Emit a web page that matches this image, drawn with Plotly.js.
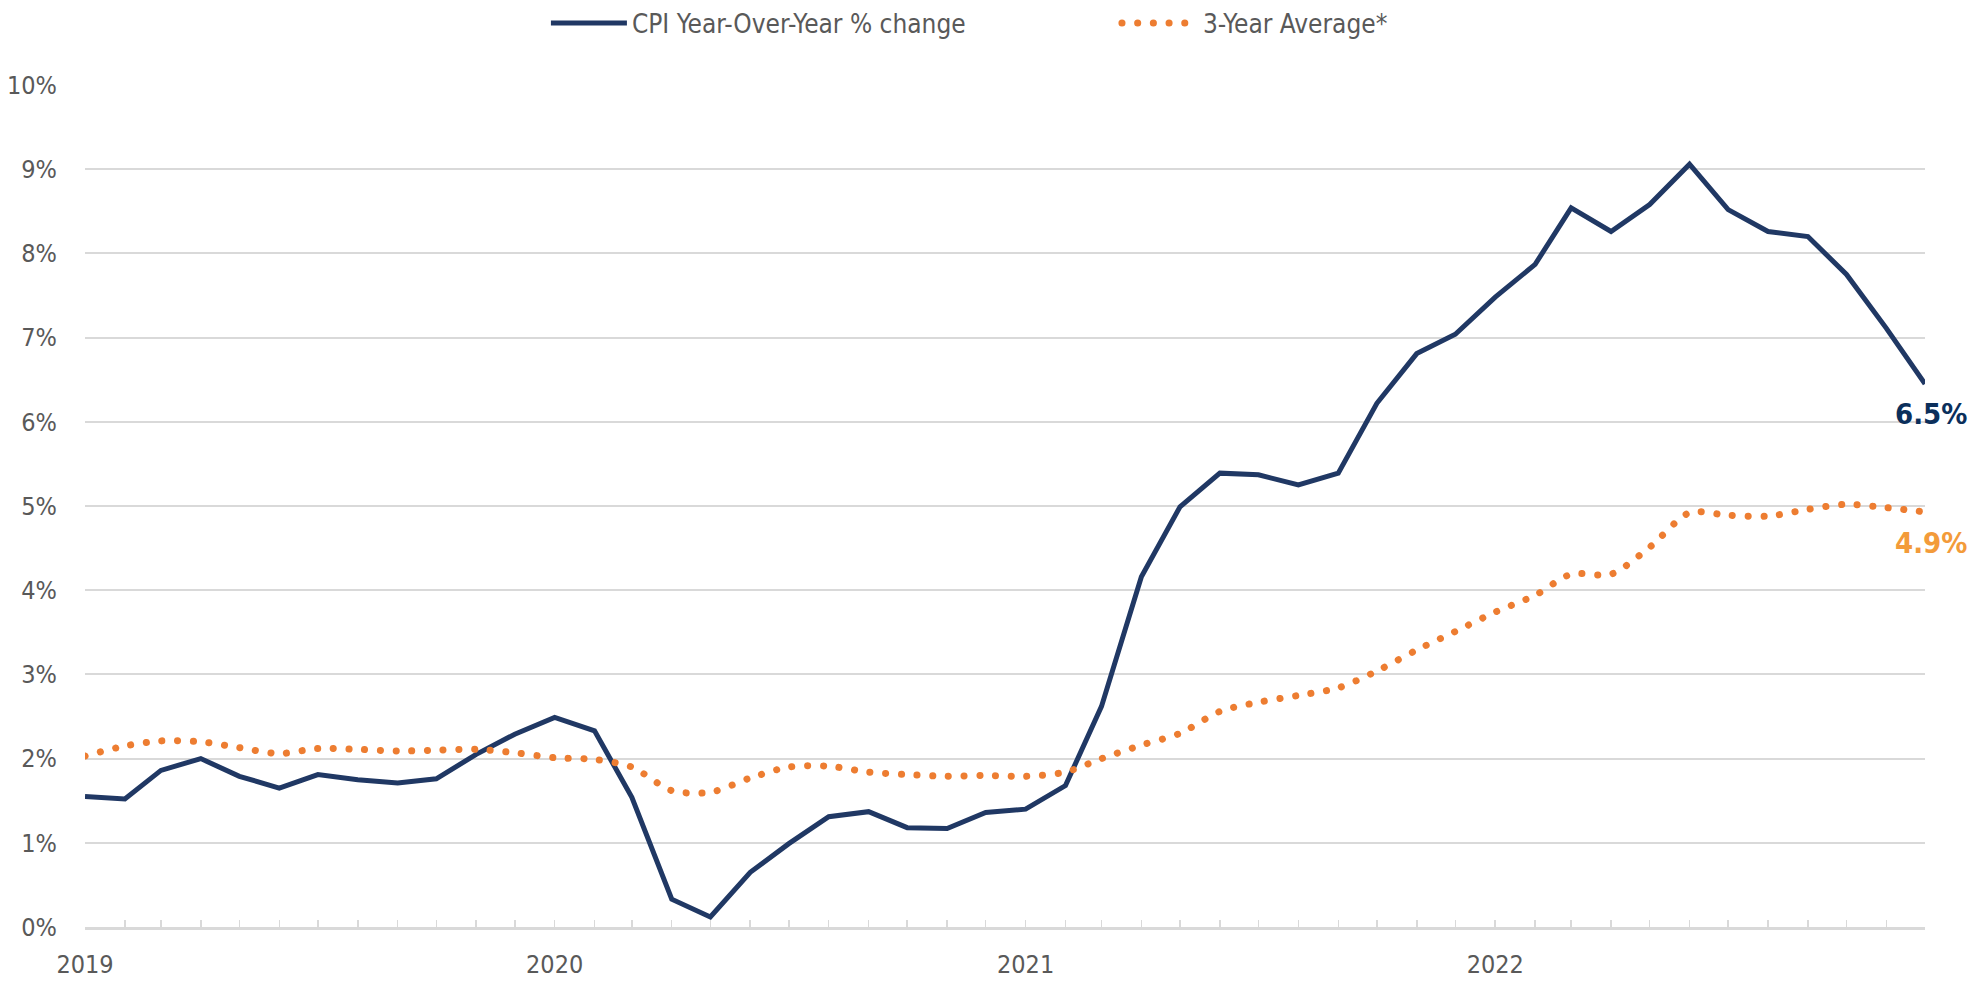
<!DOCTYPE html>
<html>
<head>
<meta charset="utf-8">
<script src="https://cdn.plot.ly/plotly-3.0.1.min.js"></script>
<style>
html,body{margin:0;padding:0;background:#fff;}
#chart{width:1988px;height:982px;}
</style>
</head>
<body>
<div id="chart"></div>
<script>
// ---- data ----
const months = [
  "2019-01-01","2019-02-01","2019-03-01","2019-04-01","2019-05-01","2019-06-01","2019-07-01","2019-08-01","2019-09-01","2019-10-01","2019-11-01","2019-12-01",
  "2020-01-01","2020-02-01","2020-03-01","2020-04-01","2020-05-01","2020-06-01","2020-07-01","2020-08-01","2020-09-01","2020-10-01","2020-11-01","2020-12-01",
  "2021-01-01","2021-02-01","2021-03-01","2021-04-01","2021-05-01","2021-06-01","2021-07-01","2021-08-01","2021-09-01","2021-10-01","2021-11-01","2021-12-01",
  "2022-01-01","2022-02-01","2022-03-01","2022-04-01","2022-05-01","2022-06-01","2022-07-01","2022-08-01","2022-09-01","2022-10-01","2022-11-01","2022-12-01"
];
const cpiYoY = [
  1.55,1.52,1.86,2.00,1.79,1.65,1.81,1.75,1.71,1.76,2.05,2.29,
  2.49,2.33,1.54,0.33,0.12,0.65,0.99,1.31,1.37,1.18,1.17,1.36,
  1.40,1.68,2.62,4.16,4.99,5.39,5.37,5.25,5.39,6.22,6.81,7.04,
  7.48,7.87,8.54,8.26,8.58,9.06,8.52,8.26,8.20,7.75,7.11,6.45
];
const threeYearAvg = [
  2.03,2.15,2.21,2.20,2.13,2.06,2.12,2.11,2.09,2.10,2.11,2.07,
  2.01,1.99,1.90,1.62,1.60,1.77,1.90,1.91,1.84,1.81,1.79,1.80,
  1.79,1.84,2.00,2.16,2.30,2.56,2.67,2.75,2.84,3.04,3.29,3.51,
  3.74,3.94,4.19,4.19,4.51,4.92,4.89,4.88,4.96,5.02,4.98,4.93
];
const seriesNames = ["CPI Year-Over-Year % change", "3-Year Average*"];
const endLabels = ["6.5%", "4.9%"];
const yTickVals = [0,1,2,3,4,5,6,7,8,9,10];
const yTickText = ["0%","1%","2%","3%","4%","5%","6%","7%","8%","9%","10%"];

const FONT = "'DejaVu Sans Condensed', 'Liberation Sans Narrow', 'Arial Narrow', sans-serif";
const BLUE = "#203864";
const ORANGE = "#ED7D31";

const traces = [
  {
    x: months, y: cpiYoY, name: seriesNames[0], type: "scatter", mode: "lines",
    line: {color: BLUE, width: 5}, hoverinfo: "skip"
  },
  {
    x: months, y: threeYearAvg, name: seriesNames[1], type: "scatter", mode: "lines",
    line: {color: ORANGE, width: 7, dash: "0.1px,15.6px", shape: "spline", smoothing: 0.8}, hoverinfo: "skip"
  }
];

const last = months.length - 1;
const layout = {
  width: 1988, height: 982,
  paper_bgcolor: "#ffffff", plot_bgcolor: "#ffffff",
  margin: {l: 85, r: 63, t: 85, b: 55, autoexpand: false},
  font: {family: FONT, color: "#595959", size: 26},
  showlegend: true,
  legend: {
    orientation: "h", x: 0.2505, xanchor: "left", y: 1.0736, yanchor: "middle",
    font: {family: FONT, size: 26, color: "#595959"},
    itemwidth: 76,
    entrywidth: 480, entrywidthmode: "pixels",
    bgcolor: "rgba(0,0,0,0)"
  },
  xaxis: {
    type: "date",
    range: [months[0], months[last]],
    tickmode: "linear", tick0: "2019-01-01", dtick: "M12", tickformat: "%Y",
    ticks: "inside", ticklen: 7, tickwidth: 1.5, tickcolor: "#d9d9d9",
    minor: {dtick: "M1", tick0: "2019-01-01", ticks: "inside", ticklen: 7, tickwidth: 1.5, tickcolor: "#d9d9d9", showgrid: false},
    showline: true, linecolor: "#d9d9d9", linewidth: 2.5,
    showgrid: false, zeroline: false,
    tickfont: {family: FONT, size: 25, color: "#595959"},
    ticklabelstandoff: 13,
    fixedrange: true
  },
  yaxis: {
    range: [0, 10],
    tickmode: "array", tickvals: yTickVals, ticktext: yTickText,
    showgrid: true, gridcolor: "#d9d9d9", gridwidth: 2,
    zeroline: false, showline: false, ticks: "",
    tickfont: {family: FONT, size: 25, color: "#595959"},
    ticklabelstandoff: 27,
    fixedrange: true
  },
  annotations: [
    {x: months[last], y: cpiYoY[last], xref: "x", yref: "y", text: endLabels[0], showarrow: false,
     xanchor: "center", yanchor: "middle", xshift: 6, yshift: -30,
     font: {family: FONT, size: 29, color: "#0B2F5B", weight: "bold"}},
    {x: months[last], y: threeYearAvg[last], xref: "x", yref: "y", text: endLabels[1], showarrow: false,
     xanchor: "center", yanchor: "middle", xshift: 6, yshift: -31,
     font: {family: FONT, size: 29, color: "#F39B3A", weight: "bold"}}
  ]
};

function roundDots() {
  const gd = document.getElementById("chart");
  const tr = gd.querySelectorAll(".scatterlayer .trace");
  if (tr[1]) tr[1].querySelectorAll("path.js-line").forEach(p => { p.style.strokeLinecap = "round"; });
  const legendItems = gd.querySelectorAll(".legend .traces");
  if (legendItems[1]) legendItems[1].querySelectorAll(".legendlines path").forEach(p => { p.style.strokeLinecap = "round"; });
}

Plotly.newPlot("chart", traces, layout, {displayModeBar: false, staticPlot: true}).then(gd => {
  roundDots();
  gd.on("plotly_afterplot", roundDots);
  setTimeout(roundDots, 200);
});
</script>
</body>
</html>
